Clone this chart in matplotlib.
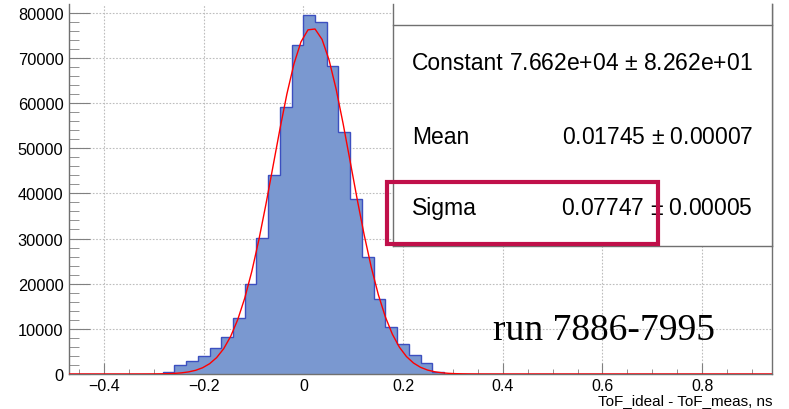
import numpy as np
import matplotlib
matplotlib.use("Agg")
import matplotlib.pyplot as plt
from matplotlib.patches import Rectangle
from matplotlib.lines import Line2D

# ---- data ----
x_min, x_max, n_bins = -0.47, 0.94, 60
counts = [0, 0, 0, 0, 0, 0, 0, 0, 450, 2000,
          2800, 4050, 5700, 8200, 12500, 19850, 30150, 44000, 59150, 72850,
          79400, 77900, 68150, 53550, 38800, 25950, 16700, 10450, 6640, 4200,
          2430, 500, 80, 0, 0, 0, 0, 0, 0, 0,
          0, 0, 0, 0, 0, 0, 0, 0, 0, 0,
          0, 0, 0, 0, 0, 0, 0, 0, 0, 0]
fit_const, fit_mean, fit_sigma = 7.662e4, 0.01745, 0.07747
stat_labels = ["Constant", "Mean", "Sigma"]
stat_values = ["7.662e+04 $\\pm$ 8.262e+01", "0.01745 $\\pm$ 0.00007", "0.07747 $\\pm$ 0.00005"]
xlabel = "ToF_ideal - ToF_meas, ns"
run_text = "run 7886-7995"

plt.rcParams['font.family'] = ['Liberation Sans', 'DejaVu Sans']
plt.rcParams['mathtext.fontset'] = 'custom'
plt.rcParams['mathtext.rm'] = 'Liberation Sans'

W, H = 789, 410
fig = plt.figure(figsize=(W / 100, H / 100), dpi=100)
L, R, B, T = 69, 772, 375, 5
ax = fig.add_axes([L / W, (H - B) / H, (R - L) / W, (B - T) / H])

edges = np.linspace(x_min, x_max, n_bins + 1)
ax.stairs(counts, edges, fill=True, color='#7a98d0', zorder=2)
ax.stairs(counts, edges, fill=False, color='#3c4fc0', lw=1.0, zorder=3)

xf = np.linspace(x_min, x_max, 101)
yf = fit_const * np.exp(-0.5 * ((xf - fit_mean) / fit_sigma) ** 2)
ax.plot(xf, yf, color='#ff0000', lw=1.0, zorder=4)

ax.set_xlim(x_min, x_max)
ax.set_ylim(0, 80000 + (13.7 - 5) / 45.2 * 10000)
ax.set_xticks(np.arange(-0.4, 0.81, 0.2))
ax.set_xticklabels(["\u22120.4", "\u22120.2", "0", "0.2", "0.4", "0.6", "0.8"])
ax.set_xticks(np.arange(-0.45, 0.93, 0.05), minor=True)
ax.set_yticks(np.arange(0, 80001, 10000))
ax.set_yticks(np.arange(0, 82000, 2000), minor=True)

ax.grid(True, which='major', color='#bdbdbd', ls=(0, (1.5, 1.5)), lw=0.8, zorder=1)
ax.tick_params(axis='y', which='major', direction='in', length=15, color='#808080', labelsize=11.8, pad=4)
ax.tick_params(axis='y', which='minor', direction='in', length=7.2, color='#808080')
ax.tick_params(axis='x', which='major', direction='in', length=8, color='#808080', labelsize=11.5, pad=3)
ax.tick_params(axis='x', which='minor', direction='in', length=3.6, color='#808080')
for s in ['left', 'bottom', 'right']:
    ax.spines[s].set_color('#707070')
    ax.spines[s].set_linewidth(1.0)
ax.spines['top'].set_visible(False)

fig.text(772 / W, 1 - 401 / H, xlabel, ha='right', va='center', fontsize=11)

# stats box (figure pixel coordinates)
def fx(px):
    return px / W

def fy(py):
    return 1 - py / H

bx0, bx1, by0, by1 = 392.5, 772, 5, 246.5
fig.patches.append(Rectangle((fx(bx0), fy(by1)), fx(bx1) - fx(bx0), fy(by0) - fy(by1),
                             transform=fig.transFigure, facecolor='white', edgecolor='none', zorder=5))
for (xa, ya, xb, yb) in [(bx0, by0, bx0, by1), (bx0, by1, bx1, by1), (bx1, by0, bx1, by1), (bx0, 25.7, bx1, 25.7)]:
    fig.add_artist(Line2D([fx(xa), fx(xb)], [fy(ya), fy(yb)], transform=fig.transFigure,
                          color='#707070', lw=1.0, zorder=6))
rows_y = [64, 137, 209]
for lab, val, yy in zip(stat_labels, stat_values, rows_y):
    fig.text(fx(412), fy(yy), lab, ha='left', va='center', fontsize=16.5, zorder=7)
    fig.text(fx(753), fy(yy), val, ha='right', va='center', fontsize=16.5, zorder=7)

fig.patches.append(Rectangle((fx(387), fy(245)), fx(657.5) - fx(387), fy(183) - fy(245),
                             transform=fig.transFigure, facecolor='none', edgecolor='#c0104a', lw=3.0, zorder=8))

fig.text(fx(493), fy(340), run_text, ha='left', va='baseline', fontsize=27,
         family=['Liberation Serif', 'DejaVu Serif'], zorder=7)

fig.savefig('out.png', dpi=100)
